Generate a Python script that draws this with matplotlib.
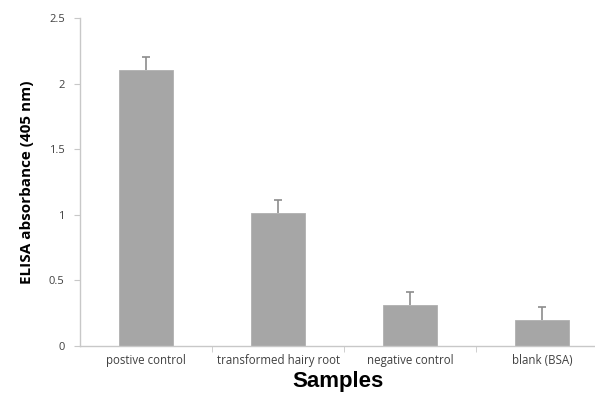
import matplotlib
matplotlib.use("Agg")
import matplotlib.pyplot as plt
from matplotlib.ticker import FixedLocator

categories = ["postive control", "transformed hairy root", "negative control", "blank (BSA)"]
values = [2.10, 1.01, 0.31, 0.20]
errors = [0.10, 0.10, 0.10, 0.10]
yticks = [0, 0.5, 1, 1.5, 2, 2.5]
yticklabels = ["0", "0.5", "1", "1.5", "2", "2.5"]

plt.rcParams['font.family'] = ['Open Sans', 'DejaVu Sans']

fig = plt.figure(figsize=(5.95, 3.94), dpi=100)
ax = fig.add_axes([80/595, 48/394, 515/595, 328/394])

x = list(range(len(categories)))
ax.bar(x, values, width=0.41, color="#a6a6a6", edgecolor="#b0b0b0", linewidth=0.6, zorder=2)
tops = [v + e for v, e in zip(values, errors)]
ax.vlines(x, values, tops, color="#8c8c8c", linewidth=1.2, zorder=3)
ax.plot(x, tops, linestyle="none", marker="_", markersize=6, markeredgewidth=1.2,
        color="#8c8c8c", zorder=3)

ax.set_xlim(-0.5, 3.40)
ax.set_ylim(0, 2.5)
ax.set_yticks(yticks)
ax.set_yticklabels(yticklabels, fontsize=8, color="#404040")
ax.set_xticks(x)
ax.set_xticklabels(categories, fontsize=8.3, color="#404040")
ax.xaxis.set_minor_locator(FixedLocator([0.5, 1.5, 2.5]))
ax.tick_params(axis="x", which="major", length=0, pad=6)
ax.tick_params(axis="x", which="minor", length=4, color="#c8c8c8", direction="out")
ax.tick_params(axis="y", length=4, color="#c8c8c8", direction="out", pad=7)

for s in ["top", "right"]:
    ax.spines[s].set_visible(False)
for s in ["left", "bottom"]:
    ax.spines[s].set_color("#c8c8c8")
    ax.spines[s].set_linewidth(1.0)

ax.set_ylabel("ELISA absorbance (405 nm)", fontsize=11, fontweight="bold", color="black", labelpad=11)
ax.set_xlabel("Samples", fontsize=16, fontweight="bold", color="black", labelpad=3,
              family=["Liberation Sans", "DejaVu Sans"])

fig.savefig("out.png", dpi=100)
